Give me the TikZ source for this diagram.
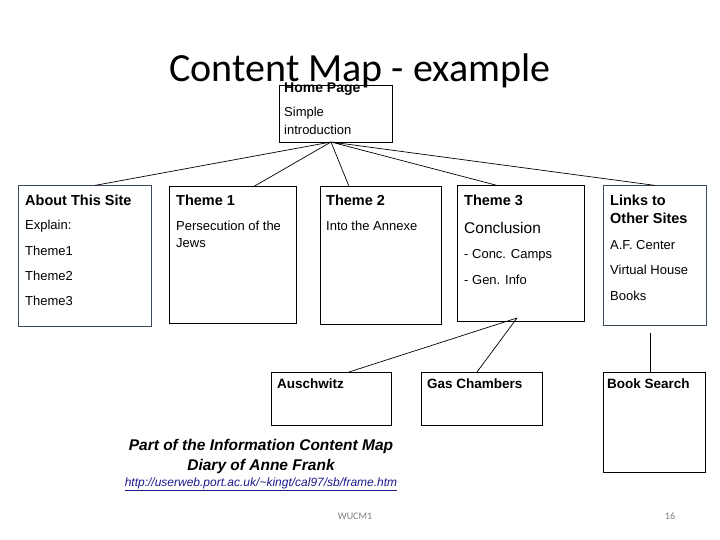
\documentclass[tikz,border=0pt]{standalone}
\usepackage{fontspec}
\setmainfont{Liberation Sans}
\newfontfamily\titlefont{Carlito}
\definecolor{slate}{HTML}{3B4A5A}
\definecolor{urlblue}{HTML}{1A1A8C}
\begin{document}
\begin{tikzpicture}[x=1pt,y=-1pt,
  box/.style={draw,line width=0.9pt,anchor=north west,inner sep=0pt},
  txt/.style={anchor=west,inner sep=0pt,font=\fontsize{13}{15}\selectfont},
  head/.style={anchor=west,inner sep=0pt,font=\fontsize{14.5}{16}\selectfont\bfseries},
  link/.style={line width=0.7pt}]
\useasboundingbox[fill=white] (0,0) rectangle (720,540);
\node[anchor=center,inner sep=0pt,font=\titlefont\fontsize{40}{44}\selectfont] (title) at (360,71) {Content Map - example};
\node[box,minimum width=113pt,minimum height=57pt] (home) at (279,85) {};
\node[box,draw=slate,minimum width=133pt,minimum height=141pt] (about) at (18,185) {};
\node[box,minimum width=127pt,minimum height=137pt] (t1) at (169,186) {};
\node[box,minimum width=121pt,minimum height=138pt] (t2) at (320,186) {};
\node[box,minimum width=127pt,minimum height=136pt] (t3) at (457,185) {};
\node[box,draw=slate,minimum width=103pt,minimum height=140pt] (links) at (603,185) {};
\node[box,minimum width=120pt,minimum height=53pt] (ausch) at (271,372) {};
\node[box,minimum width=121pt,minimum height=53pt] (gas) at (421,372) {};
\node[box,minimum width=102pt,minimum height=100pt] (book) at (603,372) {};
\coordinate (hb) at (331,142);
\coordinate (t3b) at (517,318);
\draw[link] (hb) -- (95,185.4) (hb) -- (254,186.4) (hb) -- (349,186.4) (hb) -- (497,185.4) (hb) -- (655,185.4);
\draw[link] (t3b) -- (349,372) (t3b) -- (477,372);
\draw[link] (650,333) -- (book.north -| 650,0);
% home
\node[head,font=\fontsize{14}{15}\selectfont\bfseries] (hp) at (284,89) {Home Page};
\node[txt] (hs) at (284,113) {Simple};
\node[txt] (hi) at (284,130) {introduction};
% about
\node[head] (ah) at (25,200) {About This Site};
\node[txt] (a1) at (25,226) {Explain:};
\node[txt] (a2) at (25,251) {Theme1};
\node[txt] (a3) at (25,276) {Theme2};
\node[txt] (a4) at (25,301) {Theme3};
% theme1
\node[head] (h1) at (176,200) {Theme 1};
\node[txt] (p1) at (176,226) {Persecution of the};
\node[txt] (p2) at (176,243) {Jews};
% theme2
\node[head] (h2) at (326,200) {Theme 2};
\node[txt] (i2) at (326,226) {Into the Annexe};
% theme3
\node[head] (h3) at (464,200) {Theme 3};
\node[txt,font=\fontsize{15.5}{17}\selectfont] (c3) at (464,228) {Conclusion};
\node[txt] (c4) at (464,255) {- Conc. Camps};
\node[txt] (c5) at (464,280) {- Gen. Info};
% links
\node[head] (l1) at (610,200) {Links to};
\node[head] (l2) at (610,218) {Other Sites};
\node[txt] (l3) at (610,245) {A.F. Center};
\node[txt] (l4) at (610,270) {Virtual House};
\node[txt] (l5) at (610,296) {Books};
% bottom
\node[head,font=\fontsize{13.5}{15}\selectfont\bfseries] (au) at (277,384) {Auschwitz};
\node[head,font=\fontsize{13.5}{15}\selectfont\bfseries] (ga) at (427,384) {Gas Chambers};
\node[head,font=\fontsize{13.5}{15}\selectfont\bfseries] (bs) at (607,384) {Book Search};
\node[inner sep=0pt,font=\fontsize{15.5}{17}\selectfont\bfseries\itshape] (cap1) at (261,446) {Part of the Information Content Map};
\node[inner sep=0pt,font=\fontsize{15.5}{17}\selectfont\bfseries\itshape] (cap2) at (261,466) {Diary of Anne Frank};
\node[inner sep=0pt,text=urlblue,font=\fontsize{12}{13}\selectfont\itshape] (url) at (261,484) {\underline{http://userweb.port.ac.uk/\textasciitilde kingt/cal97/sb/frame.htm}};
\node[inner sep=0pt,text=gray,font=\titlefont\fontsize{10}{12}\selectfont] (wu) at (355,516) {WUCM1};
\node[inner sep=0pt,text=gray,font=\titlefont\fontsize{10}{12}\selectfont] (pg) at (670,516) {16};
\end{tikzpicture}
\end{document}
